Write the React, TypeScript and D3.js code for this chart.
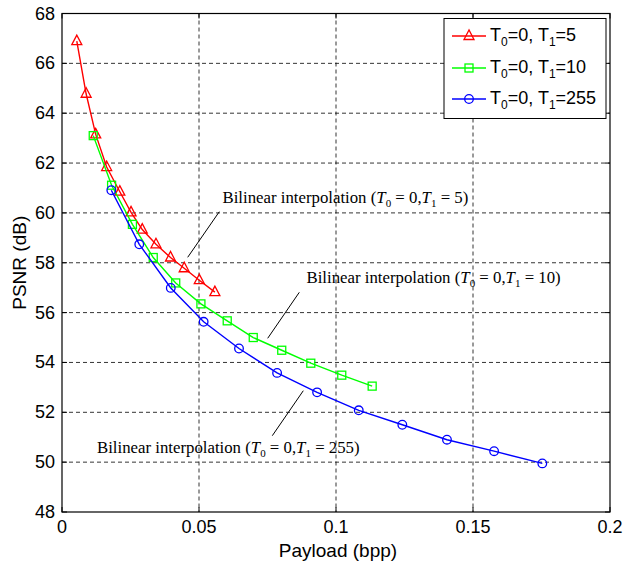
import React from "react";
import * as d3 from "d3";

const xTicks = [0, 0.05, 0.1, 0.15, 0.2];
const xTickLabels = ["0", "0.05", "0.1", "0.15", "0.2"];
const yTicks = [48, 50, 52, 54, 56, 58, 60, 62, 64, 66, 68];

const redX = [0.0054, 0.0088, 0.0123, 0.0163, 0.0211, 0.0252, 0.0293, 0.0343, 0.0396, 0.0446, 0.0501, 0.0558];
const redY = [66.89, 64.78, 63.15, 61.84, 60.85, 60.02, 59.33, 58.74, 58.21, 57.78, 57.30, 56.82];
const greenX = [0.0114, 0.0181, 0.0257, 0.0333, 0.0415, 0.0507, 0.0603, 0.0698, 0.0802, 0.0908, 0.1021, 0.1132];
const greenY = [63.10, 61.11, 59.54, 58.21, 57.19, 56.35, 55.67, 55.0, 54.49, 53.97, 53.49, 53.05];
const blueX = [0.018, 0.0282, 0.0397, 0.0517, 0.0646, 0.0785, 0.0931, 0.1083, 0.1242, 0.1405, 0.1577, 0.1753];
const blueY = [60.91, 58.74, 56.99, 55.63, 54.56, 53.58, 52.8, 52.08, 51.5, 50.9, 50.44, 49.95];

const seriesNames = ["5", "10", "255"];

const L = 62, R = 610, T = 13.5, B = 512;

export default function App() {
  const x = d3.scaleLinear().domain([0, 0.2]).range([L, R]);
  const y = d3.scaleLinear().domain([48, 68]).range([B, T]);
  const line = d3.line<[number, number]>().x(d => x(d[0])).y(d => y(d[1]));

  const series = [
    { xs: redX, ys: redY, color: "#ff0000", marker: "tri" },
    { xs: greenX, ys: greenY, color: "#00ff00", marker: "sq" },
    { xs: blueX, ys: blueY, color: "#0000ff", marker: "circ" },
  ];

  const marker = (m: string, cx: number, cy: number, color: string, key: any) => {
    if (m === "tri") {
      const p = `${cx},${cy - 6} ${cx - 5},${cy + 3.5} ${cx + 5},${cy + 3.5}`;
      return <polygon key={key} points={p} fill="none" stroke={color} strokeWidth={1.3} />;
    }
    if (m === "sq") {
      return <rect key={key} x={cx - 4} y={cy - 4} width={8} height={8} fill="none" stroke={color} strokeWidth={1.3} />;
    }
    return <circle key={key} cx={cx} cy={cy} r={4.3} fill="none" stroke={color} strokeWidth={1.3} />;
  };

  const serif = "'Liberation Serif', 'Times New Roman', serif";
  const sans = "'Liberation Sans', Arial, sans-serif";

  const annot = (tx: number, ty: number, t1: string, key: string) => (
    <text key={key} x={tx} y={ty} fontFamily={serif} fontSize={16.8} fill="#000">
      Bilinear interpolation (
      <tspan fontStyle="italic">T</tspan>
      <tspan fontSize={11} dy={4}>0</tspan>
      <tspan dy={-4}>{" = 0,"}</tspan>
      <tspan fontStyle="italic">T</tspan>
      <tspan fontSize={11} dy={4}>1</tspan>
      <tspan dy={-4}>{" = " + t1 + ")"}</tspan>
    </text>
  );

  const legendRows = [36, 68, 99];

  return (
    <svg width={625} height={562} style={{ display: "block", position: "absolute", left: 0, top: 0 }}>
      <rect x={0} y={0} width={625} height={562} fill="#fff" />
      {/* grid */}
      {xTicks.slice(1, -1).map((t, i) => (
        <line key={"gx" + i} x1={x(t)} x2={x(t)} y1={T} y2={B} stroke="#000" strokeWidth={0.8} strokeDasharray="4,3" />
      ))}
      {yTicks.slice(1, -1).map((t, i) => (
        <line key={"gy" + i} x1={L} x2={R} y1={y(t)} y2={y(t)} stroke="#000" strokeWidth={0.8} strokeDasharray="4,3" />
      ))}
      {/* ticks */}
      {xTicks.map((t, i) => (
        <g key={"tx" + i}>
          <line x1={x(t)} x2={x(t)} y1={B} y2={B - 5} stroke="#000" />
          <line x1={x(t)} x2={x(t)} y1={T} y2={T + 5} stroke="#000" />
          <text x={x(t)} y={B + 21} textAnchor="middle" fontFamily={sans} fontSize={18}>{xTickLabels[i]}</text>
        </g>
      ))}
      {yTicks.map((t, i) => (
        <g key={"ty" + i}>
          <line x1={L} x2={L + 5} y1={y(t)} y2={y(t)} stroke="#000" />
          <line x1={R} x2={R - 5} y1={y(t)} y2={y(t)} stroke="#000" />
          <text x={L - 7} y={y(t) + 6} textAnchor="end" fontFamily={sans} fontSize={18}>{t}</text>
        </g>
      ))}
      <rect x={L} y={T} width={R - L} height={B - T} fill="none" stroke="#000" strokeWidth={1.2} />
      <text x={338} y={557} textAnchor="middle" fontFamily={sans} fontSize={19}>Payload (bpp)</text>
      <text transform={`translate(26,${(T + B) / 2}) rotate(-90)`} textAnchor="middle" fontFamily={sans} fontSize={19}>PSNR (dB)</text>

      {/* series */}
      {series.map((s, si) => {
        const pts: [number, number][] = s.xs.map((v, i) => [v, s.ys[i]]);
        return (
          <g key={"s" + si}>
            <path d={line(pts) || ""} fill="none" stroke={s.color} strokeWidth={1.4} />
            {pts.map((p, i) => marker(s.marker, x(p[0]), y(p[1]), s.color, i))}
          </g>
        );
      })}

      {/* annotations */}
      {annot(222.5, 203, "5", "a1")}
      <line x1={219.3} y1={211.7} x2={187.7} y2={257.3} stroke="#000" strokeWidth={1} />
      {annot(306.5, 283, "10", "a2")}
      <line x1={299.3} y1={292.3} x2={267.7} y2={338.3} stroke="#000" strokeWidth={1} />
      {annot(97, 453, "255", "a3")}
      <line x1={303.3} y1={390.7} x2={272.3} y2={435.7} stroke="#000" strokeWidth={1} />

      {/* legend */}
      <rect x={444} y={18.5} width={162} height={100} fill="#fff" stroke="#000" strokeWidth={1} />
      {series.map((s, i) => (
        <g key={"l" + i}>
          <line x1={452} x2={486} y1={legendRows[i]} y2={legendRows[i]} stroke={s.color} strokeWidth={1.4} />
          {marker(s.marker, 469, legendRows[i], s.color, "m")}
          <text x={490} y={legendRows[i] + 5} fontFamily={sans} fontSize={18}>
            T<tspan fontSize={12} dy={5}>0</tspan>
            <tspan dy={-5}>=0, T</tspan>
            <tspan fontSize={12} dy={5}>1</tspan>
            <tspan dy={-5}>={seriesNames[i]}</tspan>
          </text>
        </g>
      ))}
    </svg>
  );
}
